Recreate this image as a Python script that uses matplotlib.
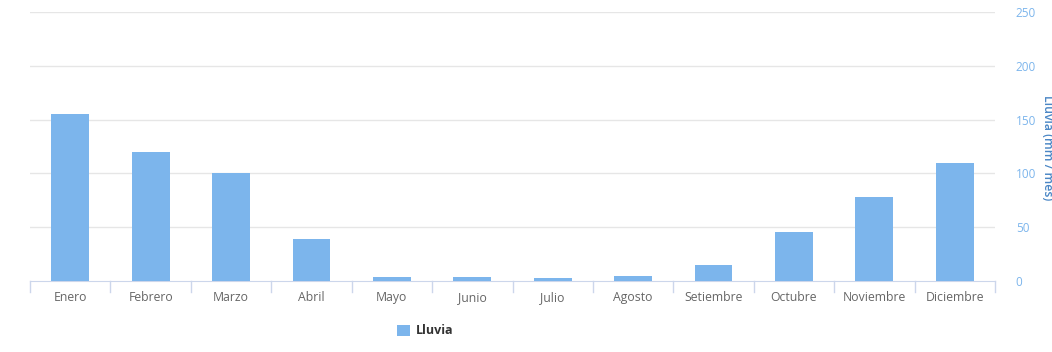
import matplotlib
matplotlib.use("Agg")
import matplotlib.pyplot as plt
import numpy as np

months = ["Enero", "Febrero", "Marzo", "Abril", "Mayo", "Junio", "Julio",
          "Agosto", "Setiembre", "Octubre", "Noviembre", "Diciembre"]
rain = [155, 120, 100, 39, 4, 4, 3, 5, 15, 46, 78, 110]
y_ticks = [0, 50, 100, 150, 200, 250]
series_name = "Lluvia"
axis_title = "Lluvia (mm / mes)"

W, H = 1052, 352
fig = plt.figure(figsize=(W / 100, H / 100), dpi=100)
fig.patch.set_facecolor("white")
ax = fig.add_axes([30 / W, (H - 281) / H, (995 - 30) / W, (281 - 12) / H])

x = np.arange(len(months))
ax.bar(x, rain, width=0.47, color="#7cb5ec", zorder=3, label=series_name)

ax.set_xlim(-0.5, len(months) - 0.5)
ax.set_ylim(0, 250)
ax.yaxis.tick_right()
ax.set_yticks(y_ticks)
ax.set_yticklabels([str(v) for v in y_ticks], color="#7cb5ec", fontsize=8.5,
                   family="Open Sans")
ax.tick_params(axis="y", length=0, pad=15)
for v in y_ticks[1:]:
    ax.axhline(v, color="#e6e6e6", lw=1, zorder=1)

ax.set_xticks(x)
ax.set_xticklabels(months, color="#666666", fontsize=8.8, family="Open Sans")
ax.tick_params(axis="x", length=0, pad=7)
for b in np.arange(-0.5, len(months), 1.0):
    ax.plot([b, b], [0, -0.04], transform=ax.get_xaxis_transform(),
            color="#ccd6eb", lw=1, clip_on=False)

for s in ["top", "left", "right"]:
    ax.spines[s].set_visible(False)
ax.spines["bottom"].set_color("#ccd6eb")

fig.text(1047 / W, (H - 148) / H, axis_title, rotation=270, color="#4a86c5",
         fontsize=8.8, family="Open Sans", weight="semibold",
         ha="center", va="center")

leg = fig.legend(loc="center left", bbox_to_anchor=(386 / W, (H - 331) / H),
                 frameon=False, handlelength=1.0, handleheight=1.0,
                 handletextpad=0.5, prop={"family": "Open Sans", "size": 9,
                                          "weight": "bold"})
for t in leg.get_texts():
    t.set_color("#333333")

fig.savefig("out.png", dpi=100)
